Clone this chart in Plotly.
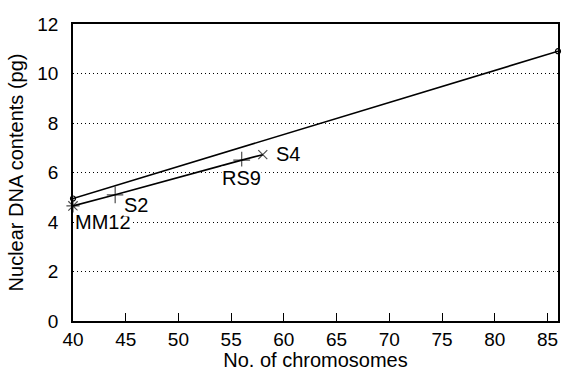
import plotly.graph_objects as go

# Upper line (open circles)
upper_x = [40, 86]
upper_y = [4.95, 10.9]

# Lower line (labelled lines)
lower_x = [40, 44, 56, 58]
lower_y = [4.65, 5.1, 6.5, 6.72]
lower_labels = ["MM12", "S2", "RS9", "S4"]
lower_symbols = ["asterisk-open", "cross-thin-open", "cross-thin-open", "x-thin-open"]

x_ticks = [40, 45, 50, 55, 60, 65, 70, 75, 80, 85]
y_ticks = [0, 2, 4, 6, 8, 10, 12]

FONT = "Liberation Sans, Arial, Helvetica, sans-serif"

fig = go.Figure()
fig.add_trace(go.Scatter(
    x=upper_x, y=upper_y, mode="lines+markers",
    line=dict(color="black", width=1.6),
    marker=dict(symbol="circle-open", size=5, color="black", line=dict(width=1.2)),
    cliponaxis=False, showlegend=False))
fig.add_trace(go.Scatter(
    x=lower_x, y=lower_y, mode="lines+markers",
    line=dict(color="black", width=1.6),
    marker=dict(symbol=lower_symbols, size=[11, 12, 12, 9], color="black",
                line=dict(width=1.2, color="black")),
    cliponaxis=False, showlegend=False))

# label offsets (pixels) relative to the marker
offsets = {"MM12": (1, -16, "left"), "S2": (8, -10, "left"),
           "RS9": (0, -18, "center"), "S4": (12, 1, "left")}
for lx, ly, lab in zip(lower_x, lower_y, lower_labels):
    dx, dy, anc = offsets[lab]
    fig.add_annotation(x=lx, y=ly, text=lab, showarrow=False,
                       xanchor=anc, yanchor="middle", xshift=dx, yshift=dy,
                       font=dict(family=FONT, size=20, color="black"),
                       bgcolor="white", borderpad=0)

fig.update_layout(
    width=563, height=371,
    margin=dict(l=73, r=3, t=24, b=47),
    paper_bgcolor="white", plot_bgcolor="white",
    font=dict(family=FONT, size=19, color="black"),
    xaxis=dict(range=[40, 86], tickvals=x_ticks, ticks="inside", ticklen=8,
               tickwidth=1, tickcolor="black", showline=True, linecolor="black",
               linewidth=1.5, mirror=True, showgrid=False, zeroline=False,
               title=dict(text="No. of chromosomes", font=dict(size=20), standoff=4),
               tickfont=dict(size=19)),
    yaxis=dict(range=[0, 12], tickvals=y_ticks, ticks="", showline=True,
               linecolor="black", linewidth=1.5, mirror=True,
               showgrid=True, gridcolor="black", gridwidth=1, griddash="1px,3px",
               zeroline=False, ticklabelstandoff=9,
               title=dict(text="Nuclear DNA contents (pg)", font=dict(size=20), standoff=8),
               tickfont=dict(size=19)),
)

fig.write_html("out.html")
